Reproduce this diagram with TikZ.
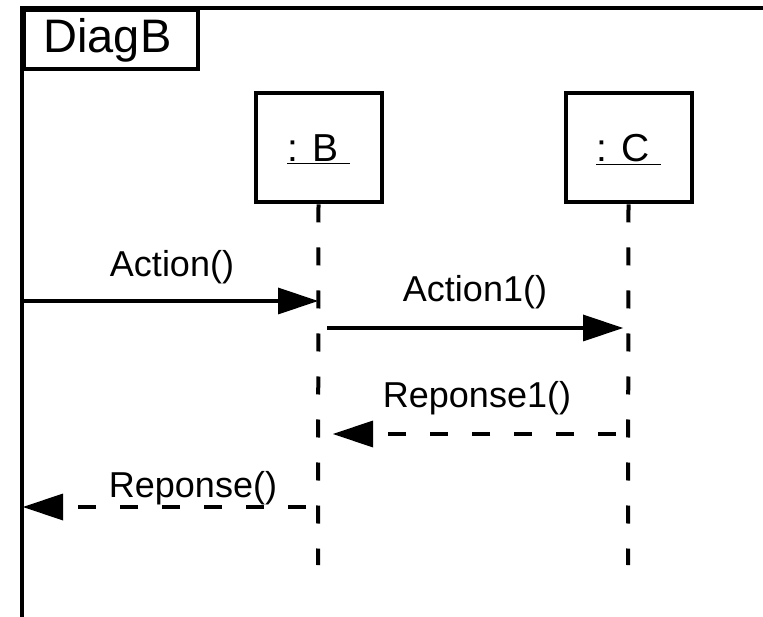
\documentclass[tikz,border=0pt]{standalone}
\usepackage{fontspec}
\setmainfont{Liberation Sans}
\usetikzlibrary{arrows.meta}
\begin{document}
\begin{tikzpicture}[x=1pt, y=-1pt, line width=4pt,
  txt/.style={font=\fontsize{36}{40}\selectfont, anchor=base, inner sep=0pt},
  nametxt/.style={txt, font=\fontsize{39}{43}\selectfont},
  tagbox/.style={draw, anchor=north west, minimum width=173.5pt, minimum height=59.5pt, inner sep=0pt},
  objbox/.style={draw, minimum width=126pt, minimum height=109pt, inner sep=0pt},
  lifeline/.style={dash pattern=on 18pt off 25pt},
  call/.style={-{Triangle[length=40pt, width=27pt, line width=0pt]}},
  reply/.style={call, dash pattern=on 18pt off 24pt, dash phase=30pt}]
\useasboundingbox (0,0) rectangle (763,617);

% frame of the interaction and its name tag
\coordinate (frameBL) at (22,619);
\coordinate (frameTL) at (22,8);
\coordinate (frameTR) at (766,8);
\draw (frameBL) -- (frameTL) -- (frameTR);
\node[tagbox] (tag) at (frameTL) {};
\node[txt, font=\fontsize{47}{51}\selectfont] (tagtext) at (107.5,53) {DiagB};

% participants
\node[objbox] (B) at (318.5,148) {};
\node[nametxt] (Bname) at (318.5,162) {\underline{: B\ }};
\node[objbox] (C) at (628.5,148) {};
\node[nametxt] (Cname) at (628.5,162) {\underline{: C\ }};

% lifelines
\coordinate (Bend) at (318,565);
\coordinate (Cend) at (628,565);
\draw[lifeline] (B.south) -- (Bend);
\draw[lifeline] (C.south) -- (Cend);

% Action()
\coordinate (a1) at (22,301);
\coordinate (a2) at (318,301);
\draw[call] (a1) -- (a2);
\node[txt] (lblAction) at (172,277) {Action()};

% Action1()
\coordinate (b1) at (327,328);
\coordinate (b2) at (623,328);
\draw[call] (b1) -- (b2);
\node[txt] (lblAction1) at (475,302) {Action1()};

% Reponse1()
\coordinate (c1) at (628,434);
\coordinate (c2) at (333,434);
\draw[reply] (c1) -- (c2);
\node[txt] (lblReponse1) at (477,408) {Reponse1()};

% Reponse()
\coordinate (d1) at (318,507);
\coordinate (d2) at (23,507);
\draw[reply] (d1) -- (d2);
\node[txt] (lblReponse) at (193,497) {Reponse()};
\end{tikzpicture}
\end{document}
